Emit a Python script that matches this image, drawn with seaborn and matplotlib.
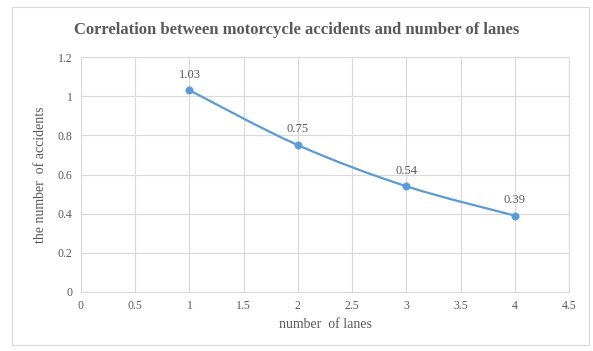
import numpy as np
import pandas as pd
import matplotlib
matplotlib.use("Agg")
import matplotlib.pyplot as plt
from matplotlib.path import Path
from matplotlib.patches import PathPatch, Rectangle
import seaborn as sns

lanes = [1, 2, 3, 4]
accidents = [1.03, 0.75, 0.54, 0.39]
x_ticks = [0, 0.5, 1, 1.5, 2, 2.5, 3, 3.5, 4, 4.5]
y_ticks = [0, 0.2, 0.4, 0.6, 0.8, 1, 1.2]
x_tick_labels = ["0", "0.5", "1", "1.5", "2", "2.5", "3", "3.5", "4", "4.5"]
y_tick_labels = ["0", "0.2", "0.4", "0.6", "0.8", "1", "1.2"]

df = pd.DataFrame({"lanes": lanes, "accidents": accidents})

sns.set_theme(style="white")
plt.rcParams["font.family"] = ["Liberation Serif", "DejaVu Serif"]

line_color = "#5B9BD5"
text_color = "#595959"
grid_color = "#D9D9D9"

W, H = 593, 351
fig = plt.figure(figsize=(W / 100, H / 100), dpi=100)
left, right, top, bottom = 81, 569, 57, 292
ax = fig.add_axes([left / W, 1 - bottom / H, (right - left) / W, (bottom - top) / H])

# chart frame
fig.patches.append(Rectangle((12 / W, 1 - 345 / H), 577 / W, 338 / H,
                             transform=fig.transFigure, fill=False,
                             edgecolor="#D9D9D9", linewidth=0.8))

# smoothed connecting curve (Catmull-Rom segments as cubic Beziers)
pts = np.column_stack([df["lanes"], df["accidents"]]).astype(float)
verts = [tuple(pts[0])]
codes = [Path.MOVETO]
n = len(pts)
for i in range(n - 1):
    p0 = pts[i - 1] if i > 0 else pts[i]
    p1 = pts[i]
    p2 = pts[i + 1]
    p3 = pts[i + 2] if i + 2 < n else pts[i + 1]
    c1 = p1 + (p2 - p0) / 6.0
    c2 = p2 - (p3 - p1) / 6.0
    verts += [tuple(c1), tuple(c2), tuple(p2)]
    codes += [Path.CURVE4] * 3
ax.add_patch(PathPatch(Path(verts, codes), fill=False, edgecolor=line_color,
                       linewidth=1.6, zorder=3))

sns.scatterplot(data=df, x="lanes", y="accidents", ax=ax, color=line_color,
                s=28, edgecolor=line_color, zorder=4, legend=False)

for xv, yv in zip(lanes, accidents):
    ax.annotate(f"{yv:.2f}", (xv, yv), xytext=(0, 7), textcoords="offset points",
                ha="center", va="bottom", fontsize=9, color=text_color)

ax.set_xlim(0, 4.5)
ax.set_ylim(0, 1.2)
ax.set_xticks(x_ticks)
ax.set_xticklabels(x_tick_labels)
ax.set_yticks(y_ticks)
ax.set_yticklabels(y_tick_labels)
ax.tick_params(axis="both", labelsize=8.5, colors=text_color, length=0, pad=6)
ax.grid(True, color=grid_color, linewidth=0.8)
ax.set_axisbelow(True)
for s in ax.spines.values():
    s.set_color(grid_color)
    s.set_linewidth(0.8)

ax.set_xlabel("number  of lanes", fontsize=10, color=text_color, labelpad=4)
ax.set_ylabel("the number  of accidents", fontsize=10, color=text_color, labelpad=8)

fig.text(0.5, 1 - 30 / H, "Correlation between motorcycle accidents and number of lanes",
         ha="center", va="center", fontsize=12, fontweight="bold", color=text_color)

fig.savefig("out.png", dpi=100)
